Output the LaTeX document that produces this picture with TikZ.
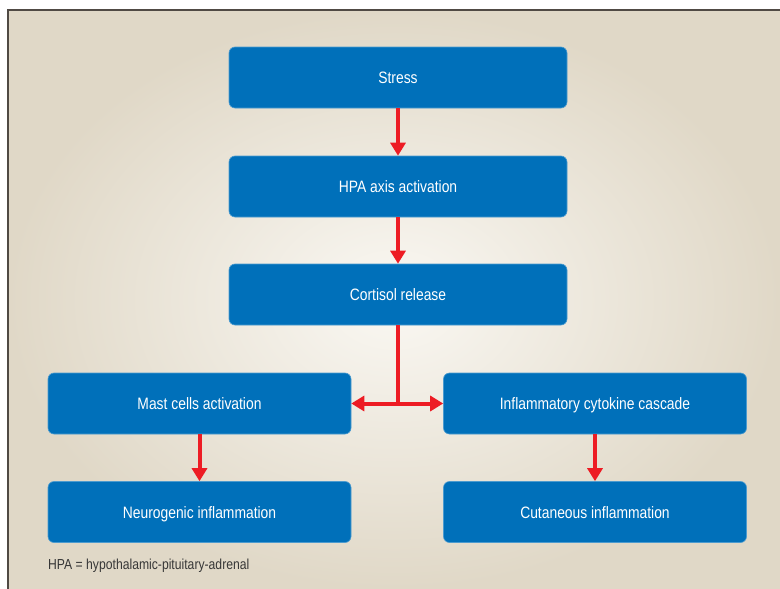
\documentclass[tikz,border=0pt]{standalone}
\usepackage{fontspec}
\setmainfont{Liberation Sans}[FakeStretch=0.84]
\usetikzlibrary{arrows.meta, positioning}
\definecolor{boxblue}{RGB}{0,112,186}
\definecolor{arrowred}{RGB}{237,28,36}
\definecolor{paper}{RGB}{224,216,199}
\definecolor{paperlight}{RGB}{250,248,243}
\definecolor{frameline}{RGB}{80,74,68}
\definecolor{notegray}{RGB}{55,55,55}
\tikzset{
    stepbox/.style={draw=boxblue!70!white, line width=0.6pt, fill=boxblue, rounded corners=6pt,
        text=white, font=\fontsize{16.5}{19}\selectfont, minimum height=61pt, inner sep=0pt,
        text height=13.5pt, text depth=1.5pt},
    widebox/.style={stepbox, minimum width=338pt},
    sidebox/.style={stepbox, minimum width=303pt},
    flow/.style={draw=arrowred, line width=4pt, -{Triangle[width=15pt,length=13pt]}},
    flowboth/.style={draw=arrowred, line width=4pt, {Triangle[width=15pt,length=13pt]}-{Triangle[width=15pt,length=13pt]}},
    flownoarrow/.style={draw=arrowred, line width=4pt},
}

\begin{document}
\begin{tikzpicture}[x=1pt, y=-1pt]
\useasboundingbox (0,0) rectangle (780,589);
\fill[white] (0,0) rectangle (780,589);
\shade[inner color=paperlight, outer color=paper] (8,10) rectangle (780,589);
\draw[frameline, line width=1.5pt] (8,589) -- (8,10) -- (780,10);

\node[widebox] (stress) at (398,77.5) {Stress};
\node[widebox] (hpa) at (398,186.5) {HPA axis activation};
\node[widebox] (cortisol) at (398,294.5) {Cortisol release};

\node[sidebox] (mast) at (199.5,403.5) {Mast cells activation};
\node[sidebox] (cytokine) at (595,403.5) {Inflammatory cytokine cascade};

\node[sidebox] (neuro) at (199.5,512) {Neurogenic inflammation};
\node[sidebox] (cutaneous) at (595,512) {Cutaneous inflammation};

\coordinate (split) at (cortisol.south |- mast.east);

\draw[flow] (stress) -- (hpa);
\draw[flow] (hpa) -- (cortisol);
\draw[flownoarrow] (cortisol.south) -- (split);
\draw[flowboth] (mast.east) -- (cytokine.west);
\draw[flow] (mast) -- (neuro);
\draw[flow] (cytokine) -- (cutaneous);

\node[anchor=west, inner sep=0pt, text=notegray, font=\fontsize{14.5}{16}\selectfont] (note) at (48,566) {HPA = hypothalamic-pituitary-adrenal};

\end{tikzpicture}
\end{document}
